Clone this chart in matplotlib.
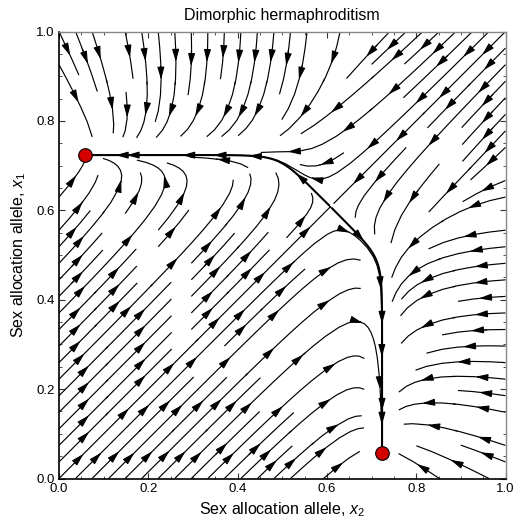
import numpy as np
import matplotlib
matplotlib.use("Agg")
import matplotlib.pyplot as plt
from matplotlib.patches import FancyArrowPatch

plt.rcParams['font.family'] = ['Liberation Sans', 'DejaVu Sans']
plt.rcParams['mathtext.fontset'] = 'custom'
plt.rcParams['mathtext.it'] = 'Liberation Sans:italic'
plt.rcParams['mathtext.rm'] = 'Liberation Sans'

# ---- chart content ----
title_text = "Dimorphic hermaphroditism"
xlabel_text = r"Sex allocation allele, $x_2$"
ylabel_text = r"Sex allocation allele, $x_1$"
ticks = [0.0, 0.2, 0.4, 0.6, 0.8, 1.0]
tick_labels = ["0.0", "0.2", "0.4", "0.6", "0.8", "1.0"]
minor_ticks = np.arange(0, 1.0001, 0.05)

# stable dimorphic equilibria (x2, x1)
eq_x2 = [0.058, 0.7235]
eq_x1 = [0.7235, 0.058]

# shape of the slow (attracting) manifold
manifold_level = 0.7235     # allele value on the straight parts
corner_sum = 1.216          # x1 + x2 on the cut corner
split = 0.6655              # difference x1 - x2 at the equilibria


def field(X, Y):
    """Selection gradient (dx2/dt, dx1/dt)."""
    c3 = manifold_level / corner_sum
    A = np.stack([X, Y, c3 * (X + Y)])
    k = 60.0
    m = A.max(0)
    W = np.exp(k * (A - m))
    S = W.sum(0)
    F = m + np.log(S) / k - manifold_level
    W = W / S
    gxv = W[0] + c3 * W[2]
    gyv = W[1] + c3 * W[2]
    gn = np.hypot(gxv, gyv)
    Dx = np.where(F > 0, gxv / gn, 1 / np.sqrt(2))
    Dy = np.where(F > 0, gyv / gn, 1 / np.sqrt(2))
    Tx, Ty = -gyv / gn, gxv / gn
    fast = -np.tanh(5.0 * F)
    d = Y - X
    phi = d * (split ** 2 - d ** 2)
    damp = np.where(F > 0, np.exp(-F / 0.2), np.exp(F / 0.11))
    slow = 3.0 * phi * damp
    return fast * Dx + slow * Tx, fast * Dy + slow * Ty


n = 240
gx = np.linspace(0, 1, n)
X, Y = np.meshgrid(gx, gx)
U, V = field(X, Y)

fig = plt.figure(figsize=(5.17, 5.23), dpi=100)
ax = fig.add_axes([59 / 517, 1 - 478.5 / 523, 446.5 / 517, 447 / 523])
ax.set_xlim(0, 1)
ax.set_ylim(0, 1)

ARROW = '-|>,head_length=0.75,head_width=0.21'


def chain_paths(segments):
    paths = []
    cur = None
    for s in segments:
        s = np.asarray(s)
        if len(s) > 2:
            if cur is not None:
                paths.append(np.array(cur))
                cur = None
            paths.append(s)
            continue
        if cur is not None and np.allclose(cur[-1], s[0]):
            cur.append(s[1])
        else:
            if cur is not None:
                paths.append(np.array(cur))
            cur = [s[0], s[1]]
    if cur is not None:
        paths.append(np.array(cur))
    return paths


def add_arrows(paths, spacing):
    for p in paths:
        if len(p) < 3:
            continue
        ds = np.hypot(np.diff(p[:, 0]), np.diff(p[:, 1]))
        s = np.concatenate([[0], np.cumsum(ds)])
        L = s[-1]
        if L < 0.03:
            continue
        na = max(1, int(round(L / spacing)))
        for i in range(na):
            sc = (i + 0.5) * L / na
            a = (np.interp(sc - 0.006, s, p[:, 0]), np.interp(sc - 0.006, s, p[:, 1]))
            b = (np.interp(sc + 0.006, s, p[:, 0]), np.interp(sc + 0.006, s, p[:, 1]))
            ar = FancyArrowPatch(a, b, arrowstyle=ARROW, mutation_scale=10,
                                 color='black', lw=0.8, shrinkA=0, shrinkB=0,
                                 transform=ax.transData, zorder=4)
            ax.add_patch(ar)


sp = ax.streamplot(gx, gx, U, V, density=0.95, color='black', linewidth=0.85,
                   arrowstyle='-', integration_direction='both', zorder=2)
add_arrows(chain_paths(sp.lines.get_segments()), spacing=0.15)


# slow manifold: trace from the saddle to both equilibria
def trace(x0, y0, step=0.002, nmax=3000):
    pts = [(x0, y0)]
    x, y = x0, y0
    for _ in range(nmax):
        u, v = field(np.array(x), np.array(y))
        sp_ = np.hypot(u, v)
        if sp_ < 1e-6:
            break
        x, y = x + step * u / sp_, y + step * v / sp_
        pts.append((float(x), float(y)))
        if min(np.hypot(x - ex, y - ey) for ex, ey in zip(eq_x2, eq_x1)) < 0.004:
            break
    return np.array(pts)


sad = corner_sum / 2
for sgn in (-1, 1):
    path = trace(sad + sgn * 0.003, sad - sgn * 0.003)
    ax.plot(path[:, 0], path[:, 1], color='black', lw=1.5, zorder=3,
            solid_capstyle='round')
    add_arrows([path], spacing=0.22)

ax.plot(eq_x2, eq_x1, 'o', ms=9.8, mfc='#D40000', mec='black', mew=0.8, zorder=5)

ax.set_xlim(0, 1)
ax.set_ylim(0, 1)
ax.set_xticks(ticks)
ax.set_xticklabels(tick_labels)
ax.set_yticks(ticks)
ax.set_yticklabels(tick_labels)
ax.set_xticks(minor_ticks, minor=True)
ax.set_yticks(minor_ticks, minor=True)
ax.tick_params(which='both', direction='in', top=True, right=True, labelsize=9.5, pad=3)
ax.tick_params(which='major', length=4.5, width=0.8)
ax.tick_params(which='minor', length=2.5, width=0.6)
for sname in ['left', 'bottom']:
    ax.spines[sname].set_color('black')
    ax.spines[sname].set_linewidth(1.2)
for sname in ['top', 'right']:
    ax.spines[sname].set_color('#888888')
    ax.spines[sname].set_linewidth(1.0)
ax.tick_params(which='both', colors='#333333', labelcolor='black')

ax.set_title(title_text, fontsize=11.5, pad=8)
ax.set_xlabel(xlabel_text, fontsize=11.5, labelpad=4)
ax.set_ylabel(ylabel_text, fontsize=11.5, labelpad=6)

fig.savefig("out.png", dpi=100)
